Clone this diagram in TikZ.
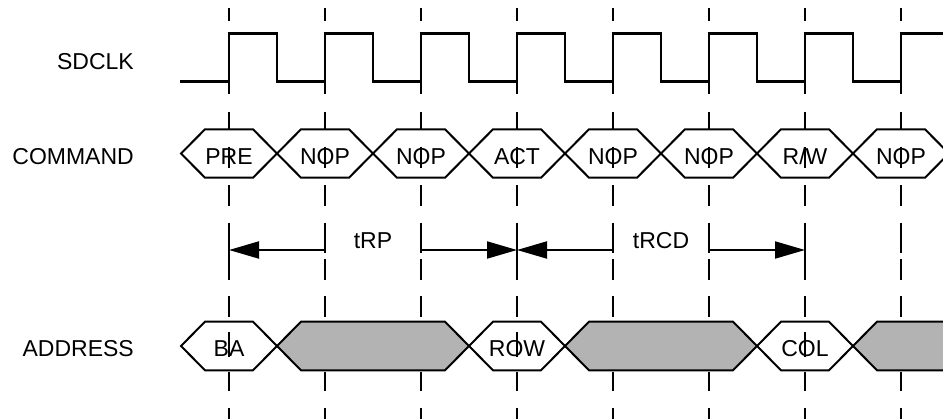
\documentclass[tikz,border=0pt]{standalone}
\usepackage{fontspec}
\setmainfont{Liberation Sans}
\usetikzlibrary{arrows.meta}
\definecolor{busfill}{HTML}{B3B3B3}
\begin{document}
\begin{tikzpicture}[x=1pt,y=-1pt,
  lbl/.style={font=\fontsize{23}{27}\selectfont, inner sep=0pt, anchor=base},
  sig/.style={font=\fontsize{23}{27}\selectfont, inner sep=0pt, anchor=base east},
  wave/.style={line width=2pt, line join=miter},
  gridline/.style={line width=2pt},
  clk/.style={line width=2.6pt, line join=miter},
  busgrey/.style={wave, fill=busfill},
  dim/.style={line width=2pt, -{Triangle[length=30pt,width=17pt]}}
]
\useasboundingbox (0,0) rectangle (943,419);
\clip (0,0) rectangle (943,419);
% dashed timing grid
\foreach \x in {229,325,...,901} {
  \foreach \a/\b in {8/21, 82/94, 112/129, 147/168, 185/206, 223/253, 259/280, 296/317, 332/357, 372/391, 408/419}
    \draw[gridline] (\x,\a) -- (\x,\b);
}
\foreach \x in {229,517,805}
  \draw[gridline] (\x,223) -- (\x,280);
% clock
\draw[clk] (180,81.7) \foreach \k in {0,...,7} {
  -- ({229+96*\k},81.7) -- ({229+96*\k},33.5) -- ({277+96*\k},33.5) -- ({277+96*\k},81.7) };
% command bus
\foreach \c/\t/\n in {181/PRE/pre, 277/NOP/nopa, 373/NOP/nopb, 469/ACT/act, 565/NOP/nopc, 661/NOP/nopd, 757/R\,/\,W/rw, 853/NOP/nope} {
  \draw[wave] (\c,153.5) -- ++(24,-24.2) -- ++(48,0) -- ++(24,24.2) -- ++(-24,24.2) -- ++(-48,0) -- cycle;
}
\node[lbl] (pre) at (229,165) {PRE};
\node[lbl] (nopa) at (325,165) {NOP};
\node[lbl] (nopb) at (421,165) {NOP};
\node[lbl] (act) at (517,165) {ACT};
\node[lbl] (nopc) at (613,165) {NOP};
\node[lbl] (nopd) at (709,165) {NOP};
\node[lbl] (rw) at (805,165) {R/W};
\node[lbl] (nope) at (901,165) {NOP};
% address bus
\foreach \c in {181,469,757}
  \draw[wave] (\c,346) -- ++(24,-24.3) -- ++(48,0) -- ++(24,24.3) -- ++(-24,24.3) -- ++(-48,0) -- cycle;
\draw[busgrey] (277,346) -- (301,321.7) -- (445,321.7) -- (469,346) -- (445,370.3) -- (301,370.3) -- cycle;
\draw[busgrey] (565,346) -- (589,321.7) -- (733,321.7) -- (757,346) -- (733,370.3) -- (589,370.3) -- cycle;
\draw[busgrey] (853,346) -- (877,321.7) -- (1021,321.7) -- (1045,346) -- (1021,370.3) -- (877,370.3) -- cycle;
\node[lbl] (ba) at (229,357) {BA};
\node[lbl] (row) at (517,357) {ROW};
\node[lbl] (col) at (805,357) {COL};
% signal names
\node[sig] (sdclk) at (134,69.3) {SDCLK};
\node[sig] (command) at (134,164.3) {COMMAND};
\node[sig] (address) at (134,357) {ADDRESS};
% timing dimensions
\coordinate (rpL) at (229,250);
\coordinate (rpLs) at (325,250);
\coordinate (rpRs) at (421,250);
\coordinate (rpR) at (517,250);
\coordinate (rcdLs) at (613,250);
\coordinate (rcdRs) at (709,250);
\coordinate (rcdR) at (805,250);
\draw[dim] (rpLs) -- (rpL);
\draw[dim] (rpRs) -- (rpR);
\draw[dim] (rcdLs) -- (rpR);
\draw[dim] (rcdRs) -- (rcdR);
\node[lbl] (trp) at (373,248.3) {tRP};
\node[lbl] (trcd) at (661,248.3) {tRCD};
\end{tikzpicture}
\end{document}
